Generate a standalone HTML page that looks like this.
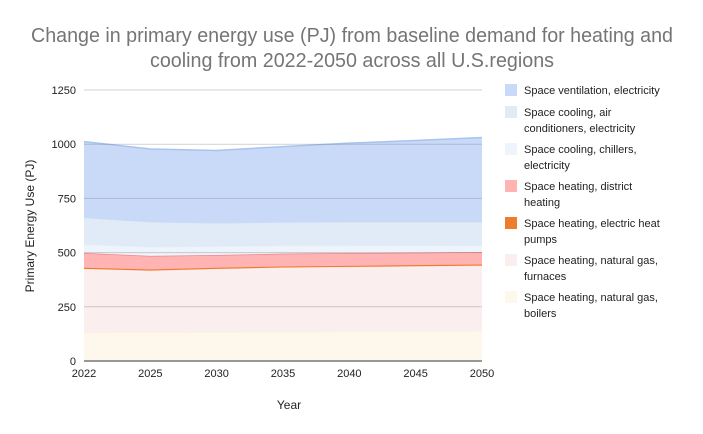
<!DOCTYPE html>
<html><head><meta charset="utf-8"><style>
body{margin:0;background:#fff;}
svg{display:block;font-family:"Liberation Sans",sans-serif;}
</style></head><body>
<svg id="chart" width="703" height="434">
<rect width="703" height="434" fill="#fff"/>
<text x="352" y="42" text-anchor="middle" font-size="20" fill="#757575" textLength="642" lengthAdjust="spacingAndGlyphs">Change in primary energy use (PJ) from baseline demand for heating and</text>
<text x="352" y="67" text-anchor="middle" font-size="20" fill="#757575" textLength="404" lengthAdjust="spacingAndGlyphs">cooling from 2022-2050 across all U.S.regions</text>
<g id="grid"></g><g id="areas"></g><g id="axes"></g><g id="legend"></g>
<text x="289" y="409" text-anchor="middle" font-size="12" fill="#222">Year</text>
<text transform="translate(34,226) rotate(-90)" text-anchor="middle" font-size="12" fill="#222">Primary Energy Use (PJ)</text>
</svg>
<script>
const years = ["2022","2025","2030","2035","2040","2045","2050"];
const boilers = [130,131,132,133,134,135,137];
const furnaces = [295,286,293,298,300,302,303];
const heatPumps = [5,5,5,5,5,5,5];
const district = [68,63,59,59,59,58,58];
const chillers = [39,41,40,36,34,32,29];
const airCond = [124,115,107,109,109,109,109];
const ventilation = [351,337,335,349,364,376,390];
const yTicks = [0,250,500,750,1000,1250];

const NS="http://www.w3.org/2000/svg";
const X0=84,X1=482,Y0=361,Y1=90,YMAX=1250;
const xs=i=>X0+(X1-X0)*i/(years.length-1);
const ys=v=>Y0-(Y0-Y1)*v/YMAX;
function mk(tag,attrs,parent){const e=document.createElementNS(NS,tag);for(const k in attrs)e.setAttribute(k,attrs[k]);parent.appendChild(e);return e;}
const areas=document.getElementById('areas'),axes=document.getElementById('axes'),legend=document.getElementById('legend');

const layers=[
 {v:boilers,fill:"#fef8ec",line:"#fdf3df",lw:1},
 {v:furnaces,fill:"#fbeeee",line:"#f8e4e4",lw:1},
 {v:heatPumps,fill:"#f07b2c",line:"#ee7a2a",lw:1.5},
 {v:district,fill:"#ffb3b3",line:"#f4848a",lw:1.5},
 {v:chillers,fill:"#eef4fb",line:"#e6eef8",lw:1},
 {v:airCond,fill:"#e1ebf7",line:"#cfdff3",lw:1},
 {v:ventilation,fill:"#c9daf8",line:"#a8c3f0",lw:1.5}
];
const layerNames=["area-boilers","area-furnaces","area-heat-pumps","area-district-heating","area-chillers","area-air-conditioners","area-ventilation"];
let base=years.map(()=>0);
layers.forEach((L,li)=>{
 const top=base.map((b,i)=>b+L.v[i]);
 let d="M"+years.map((_,i)=>xs(i)+","+ys(top[i])).join("L");
 for(let i=years.length-1;i>=0;i--)d+="L"+xs(i)+","+ys(base[i]);
 d+="Z";
 const p=mk('path',{d:d,fill:L.fill},areas);
 
 
 const l=mk('path',{d:"M"+years.map((_,i)=>xs(i)+","+ys(top[i])).join("L"),fill:"none",stroke:L.line,"stroke-width":L.lw},areas);
 
 
 base=top;
});
yTicks.forEach(t=>{
 if(t>0){const g=mk('line',{x1:X0,x2:X1,y1:ys(t),y2:ys(t),stroke:"rgba(120,120,120,0.35)","stroke-width":1},axes);
 
 }
 const tx=mk('text',{x:X0-8,y:ys(t)+4,"text-anchor":"end","font-size":11,fill:"#222"},axes);
 tx.textContent=t;
 
 
});
const ax=mk('line',{x1:X0,x2:X1,y1:Y0,y2:Y0,stroke:"#333","stroke-width":1},axes);


years.forEach((y,i)=>{
 const tx=mk('text',{x:xs(i),y:Y0+16,"text-anchor":"middle","font-size":11,fill:"#222"},axes);
 tx.textContent=y;
 
 
});
const legFills=["#c9daf8","#e1ebf7","#eef4fb","#ffb3b3","#f07b2c","#fbeeee","#fef8ec"];
const legLines=[["Space ventilation, electricity"],["Space cooling, air","conditioners, electricity"],["Space cooling, chillers,","electricity"],["Space heating, district","heating"],["Space heating, electric heat","pumps"],["Space heating, natural gas,","furnaces"],["Space heating, natural gas,","boilers"]];
const legY=[84,106,143,180,217,254,291];
legLines.forEach((lines,i)=>{
 const y=legY[i];
 const g=mk('g',{},legend);
 
 
 mk('rect',{x:505,y:y,width:12,height:12,fill:legFills[i]},g);
 lines.forEach((s,j)=>{const t=mk('text',{x:524,y:y+10+j*16,"font-size":11,fill:"#222"},g);t.textContent=s;});
});
</script>
</body></html>
